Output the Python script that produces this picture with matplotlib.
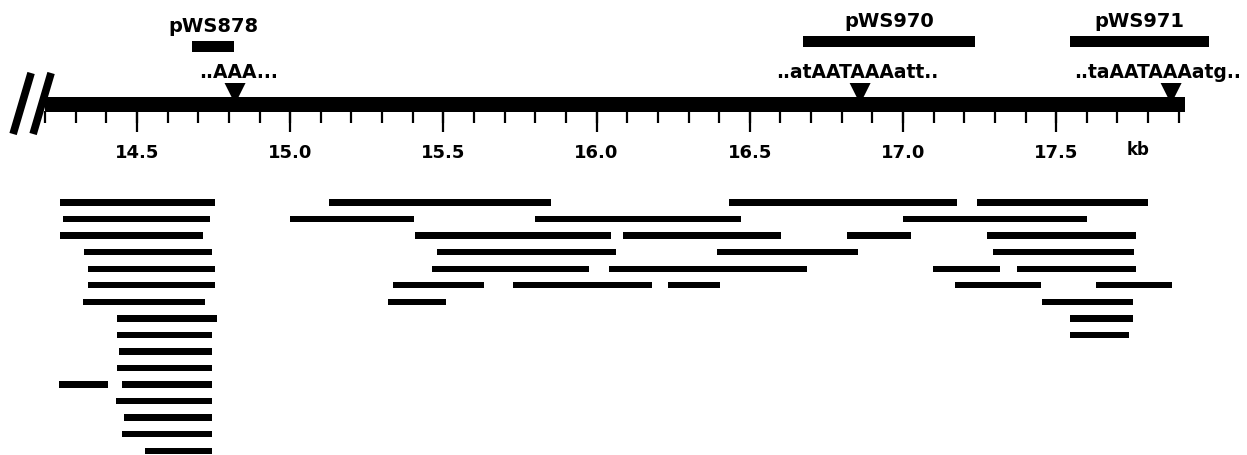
import matplotlib
matplotlib.use("Agg")
import numpy as np
import matplotlib.pyplot as plt
from matplotlib.patches import Rectangle, Polygon

# map scale (kb)
map_start = 14.2
map_end = 17.92
major_ticks = [14.5, 15.0, 15.5, 16.0, 16.5, 17.0, 17.5]
major_labels = ["14.5", "15.0", "15.5", "16.0", "16.5", "17.0", "17.5"]
minor_ticks = np.round(np.arange(14.2, 17.95, 0.1), 1)

# probes above the map
probe_names = ["pWS878", "pWS970", "pWS971"]
probe_start = [14.68, 16.674, 17.545]
probe_end = [14.817, 17.235, 18.0]

# polyadenylation sites
site_pos = [14.82, 16.86, 17.875]
site_seq = ["..AAA...", "..atAATAAAatt..", "..taAATAAAatg.."]
site_text_x = [14.83, 16.85, 17.83]

# cDNA clones, one list per row (start, end in kb)
clone_rows = [
    [(14.25, 14.755), (15.127, 15.851), (16.432, 17.176), (17.242, 17.80)],
    [(14.258, 14.738), (15.0, 15.404), (15.80, 16.471), (17.0, 17.6)],
    [(14.249, 14.715), (15.407, 16.047), (16.086, 16.602), (16.817, 17.026), (17.274, 17.76)],
    [(14.327, 14.745), (15.479, 16.063), (16.393, 16.853), (17.294, 17.754)],
    [(14.34, 14.755), (15.463, 15.975), (16.04, 16.687), (17.098, 17.317), (17.372, 17.76)],
    [(14.34, 14.755), (15.336, 15.633), (15.727, 16.181), (16.233, 16.403), (17.17, 17.45), (17.63, 17.878)],
    [(14.324, 14.722), (15.319, 15.509), (17.454, 17.751)],
    [(14.435, 14.761), (17.545, 17.751)],
    [(14.435, 14.745), (17.545, 17.738)],
    [(14.441, 14.745)],
    [(14.435, 14.745)],
    [(14.245, 14.405), (14.451, 14.745)],
    [(14.43, 14.745)],
    [(14.458, 14.745)],
    [(14.451, 14.745)],
    [(14.526, 14.745)],
]

px = 1 / 306.4  # kb per pixel
fig = plt.figure(figsize=(12.47, 4.55), dpi=100)
ax = fig.add_axes([0, 0, 1, 1])
ax.set_xlim(14.5 - 137 * px, 14.5 + 1110 * px)
ax.set_ylim(455, 0)
ax.axis("off")

font = dict(family="DejaVu Sans", fontweight="bold", color="black")

# main bar and ticks
ax.add_patch(Rectangle((map_start, 97), map_end - map_start, 15, color="black", lw=0))
ax.vlines(minor_ticks, 111, 123, color="black", lw=1.6)
ax.vlines(major_ticks, 111, 132, color="black", lw=1.6)
for t, lab in zip(major_ticks, major_labels):
    ax.text(t, 153, lab, ha="center", va="center", fontsize=13, **font)
ax.text(17.5 + 82 * px, 150, "kb", ha="center", va="center", fontsize=12, **font)

# break marks
for dx in [-14, 6]:
    ax.plot([map_start + dx * px, map_start + (dx - 18) * px], [73, 134],
            color="black", lw=5.5, solid_capstyle="butt")

# probes
probe_y = [41, 36, 36]
for name, s, e, y in zip(probe_names, probe_start, probe_end, probe_y):
    ax.add_patch(Rectangle((s, y), e - s, 11, color="black", lw=0))
    ax.text((s + e) / 2, y - 9, name, ha="center", va="baseline", fontsize=14, **font)

# poly(A) sites
for p, seq, tx in zip(site_pos, site_seq, site_text_x):
    ax.add_patch(Polygon([(p - 10.5 * px, 83), (p + 10.5 * px, 83), (p, 104)],
                         closed=True, color="black", lw=0))
    ax.text(tx, 78, seq, ha="center", va="baseline", fontsize=13.5, **font)

# clones
for i, row in enumerate(clone_rows):
    y = 202.5 + 16.55 * i
    ax.broken_barh([(s, e - s) for s, e in row], (y - 3.2, 6.4), color="black", lw=0)

fig.savefig("out.png", dpi=100)
